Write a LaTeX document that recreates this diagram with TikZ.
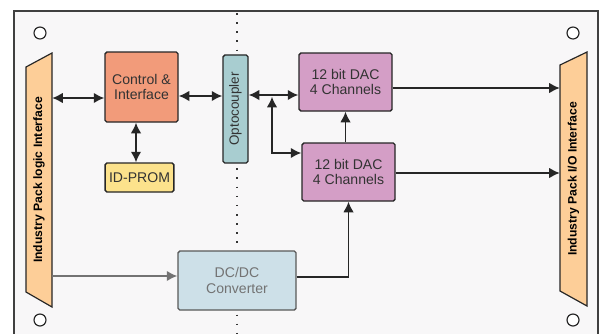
\documentclass[tikz,border=0pt]{standalone}
\usepackage{fontspec}
\setmainfont{Liberation Sans}
\usetikzlibrary{arrows,arrows.meta}
\definecolor{ctlcol}{RGB}{242,155,122}
\definecolor{optocol}{RGB}{168,205,208}
\definecolor{promcol}{RGB}{252,226,140}
\definecolor{daccol}{RGB}{212,158,198}
\definecolor{dccol}{RGB}{205,224,232}
\definecolor{packcol}{RGB}{253,206,152}
\definecolor{boardcol}{RGB}{248,247,248}

\begin{document}
\begin{tikzpicture}[x=0.03cm,y=-0.03cm,
    blk/.style={draw=black!85,line width=1.2pt,rounded corners=1.5pt,align=center,
      text=black!80,font=\fontsize{12}{13.6}\selectfont},
    pack/.style={fill=packcol,draw=black!85,line width=1pt},
    hole/.style={circle,draw=black!85,line width=1pt,fill=white,minimum size=0.36cm,inner sep=0pt},
    link/.style={line width=1.4pt,draw=black!85},
    tip/.style={-{Latex[length=9pt,width=9pt]}},
    tips/.style={{Latex[length=9pt,width=9pt]}-{Latex[length=9pt,width=9pt]}}]
    \useasboundingbox (0,0) rectangle (600,333);
    \clip (0,0) rectangle (600,333);
    % board
    \draw[fill=boardcol,draw=black!75,line width=1.5pt] (14,11) rectangle (598,360);
    \draw[black!80,line width=1.5pt,dash pattern=on 1.3pt off 6.5pt] (237,13) -- (237,333);
    \foreach \name/\pos in {h1/{(40,33)},h2/{(573,33)},h3/{(40,320)},h4/{(573,320)}}
      \node[hole] (\name) at \pos {};
    % interfaces
    \draw[pack] (26,67) -- (52,53) -- (52,307) -- (26,292) -- cycle;
    \node[minimum width=0.78cm,minimum height=7.62cm,inner sep=0pt] (lpack) at (39,180) {};
    \node[rotate=90,font=\bfseries\fontsize{10.4}{12}\selectfont] at (lpack) {Industry Pack logic Interface};
    \draw[pack] (560,65) -- (587,52) -- (587,306) -- (560,291) -- cycle;
    \node[minimum width=0.81cm,minimum height=7.62cm,inner sep=0pt] (rpack) at (573.5,179) {};
    \node[rotate=90,font=\bfseries\fontsize{10.4}{12}\selectfont] at (rpack) {Industry Pack I/O Interface};
    % blocks
    \node[blk,fill=ctlcol,minimum width=2.19cm,minimum height=2.1cm] (ctl) at (141.5,87) {Control \&\\Interface};
    \node[blk,fill=promcol,minimum width=2.01cm,minimum height=0.87cm] (prom) at (139.5,177.5) {ID-PROM};
    \node[blk,fill=optocol,minimum width=0.75cm,minimum height=3.24cm,
      label={[rotate=90,text=black!80,font=\fontsize{11.5}{13}\selectfont]center:Optocoupler}] (opto) at (235.5,109) {};
    \node[blk,fill=daccol,minimum width=2.79cm,minimum height=1.74cm] (dac1) at (345.5,82) {12 bit DAC\\4 Channels};
    \node[blk,fill=daccol,minimum width=2.79cm,minimum height=1.74cm] (dac2) at (348.5,172) {12 bit DAC\\4 Channels};
    \node[blk,fill=dccol,draw=black!65,text=black!55,minimum width=3.54cm,minimum height=1.77cm] (dcdc) at (237,280.5) {DC/DC\\Converter};
    % connectors
    \coordinate (jn) at (272,95);
    \draw[link,tips] (lpack.east |- 0,98) -- (ctl.west |- 0,98);
    \draw[link,tips] (ctl.east |- 0,96) -- (opto.west |- 0,96);
    \draw[link,tips] (ctl.south -| 136,0) -- (prom.north -| 136,0);
    \draw[link,tips] (opto.east |- jn) -- (dac1.west |- jn);
    \draw[link,tips] ([yshift=-1.5pt]jn) -- (jn |- 0,153) -- (dac2.west |- 0,153);
    \draw[link,tip] (dac1.south |- dac2.north) -- (dac1.south);
    \draw[link,tip] (dac1.east |- 0,88) -- (rpack.west |- 0,88);
    \draw[link,tip] (dac2.east |- 0,173) -- (rpack.west |- 0,173);
    \draw[link,tip,draw=black!55,fill=black!55] (lpack.east |- 0,276) -- (dcdc.west |- 0,276);
    \draw[link,tip] (dcdc.east |- 0,277) -| (dac2.south);
\end{tikzpicture}
\end{document}
